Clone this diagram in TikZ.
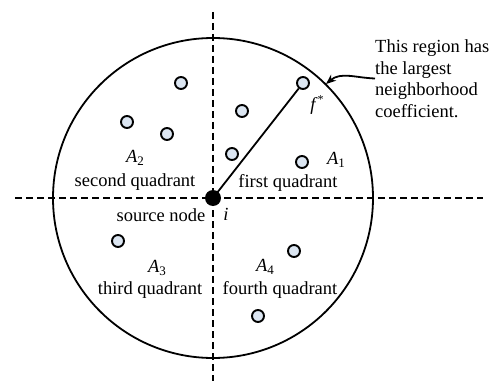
\documentclass[tikz,border=0pt]{standalone}
\usepackage{fontspec}
\setmainfont{Liberation Serif}
\usetikzlibrary{arrows.meta}
\definecolor{nodefill}{HTML}{DCE6F2}
\tikzset{
  peer/.style={circle, draw=black, line width=1.9pt, fill=nodefill, minimum size=12pt, inner sep=0pt},
  src/.style={circle, fill=black, minimum size=16pt, inner sep=0pt},
  axis/.style={line width=1.5pt, dash pattern=on 7pt off 4pt},
  rim/.style={line width=1.8pt},
  lbl/.style={inner sep=0pt, font=\fontsize{18.5}{21.5}\selectfont},
  arr/.style={line width=1.8pt, -{Stealth[length=10pt,width=8pt]}}
}
\newcommand{\Asub}[1]{\textit{A}\raisebox{-0.35ex}{\fontsize{13}{13}\selectfont #1}}
\begin{document}
\begin{tikzpicture}[x=1pt,y=1pt]
\useasboundingbox (0,0) rectangle (501,381);
% axes
\coordinate (vtop) at (213,369);
\coordinate (vbot) at (213,0);
\coordinate (hleft) at (15,183);
\coordinate (hright) at (483,183);
\draw[axis] (vtop) -- (vbot);
\draw[axis] (hleft) -- (hright);
% region circle
\coordinate (ctr) at (213,183);
\draw[rim] (ctr) circle[radius=160];
% nodes
\node[peer] (n1) at (181,298) {};
\node[peer] (n2) at (127,259) {};
\node[peer] (n3) at (167,247) {};
\node[peer] (n4) at (242,270) {};
\node[peer] (n5) at (232,227) {};
\node[peer] (fstar) at (303,298) {};
\node[peer] (n6) at (302,219) {};
\node[peer] (n7) at (118,140) {};
\node[peer] (n8) at (294,130) {};
\node[peer] (n9) at (258,65) {};
\draw[rim] (ctr) -- (fstar);
\node[src] (src) at (ctr) {};
% labels
\node[lbl] (a2) at (135,223) {\Asub{2}};
\node[lbl] (q2) at (135,199) {second quadrant};
\node[lbl] (a1) at (336,221) {\Asub{1}};
\node[lbl] (q1) at (288,198) {first quadrant};
\node[lbl] (sn) at (161,166) {source node};
\node[lbl] (il) at (226,167) {\textit{i}};
\node[lbl] (a3) at (157,113) {\Asub{3}};
\node[lbl] (q3) at (150,91) {third quadrant};
\node[lbl] (a4) at (265,114) {\Asub{4}};
\node[lbl] (q4) at (280,91) {fourth quadrant};
\node[lbl] (fl) at (317,276) {\textit{f}\raisebox{0.9ex}{\fontsize{12}{12}\selectfont *}};
\node[lbl, anchor=west, align=left] (note) at (375,302.5) {This region has\\the largest\\neighborhood\\coefficient.};
\coordinate (tip) at (326,297);
\draw[arr] (note.west) to[out=178,in=40] (tip);
\end{tikzpicture}
\end{document}
